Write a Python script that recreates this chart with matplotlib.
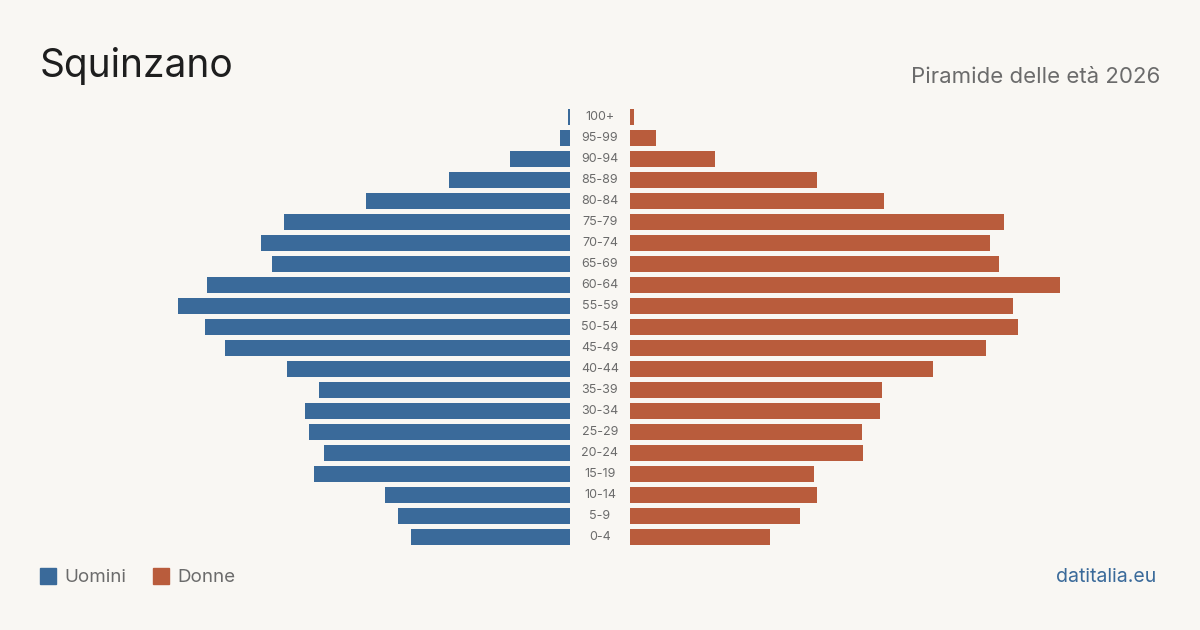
import matplotlib.pyplot as plt
import numpy as np

# Piramide delle eta - Squinzano 2026 (valori stimati dal grafico)
age_groups = ['0-4', '5-9', '10-14', '15-19', '20-24', '25-29', '30-34', '35-39',
              '40-44', '45-49', '50-54', '55-59', '60-64', '65-69', '70-74', '75-79',
              '80-84', '85-89', '90-94', '95-99', '100+']
uomini = [215, 232, 250, 346, 332, 352, 358, 339, 382, 466, 493, 529, 490, 402, 417,
          386, 275, 163, 81, 14, 3]
donne = [189, 230, 252, 248, 315, 313, 338, 340, 410, 481, 524, 518, 581, 498, 486,
         505, 343, 252, 115, 35, 5]

bg = '#f9f7f3'
blue = '#3a6a9a'
orange = '#b95c3c'
grey = '#6b6b6b'

plt.rcParams['font.family'] = ['Inter', 'DejaVu Sans']

fig = plt.figure(figsize=(12, 6.3), dpi=100, facecolor=bg)

# scala comune: 430 px per il valore massimo (60-64 donne)
xmax = max(donne) * 530 / 430
bottom = (630 - 547.5) / 630
height = 441 / 630
ax_l = fig.add_axes([40 / 1200, bottom, 530 / 1200, height])
ax_r = fig.add_axes([630 / 1200, bottom, 530 / 1200, height])

y = np.arange(len(age_groups))
ax_l.barh(y, uomini, height=0.8, color=blue)
ax_r.barh(y, donne, height=0.8, color=orange)
ax_l.set_xlim(xmax, 0)
ax_r.set_xlim(0, xmax)

for ax in (ax_l, ax_r):
    ax.set_ylim(-0.5, len(age_groups) - 0.5)
    ax.axis('off')
    ax.set_facecolor('none')

for i, lab in enumerate(age_groups):
    ax_r.text(-xmax * 30 / 530, i, lab, ha='center', va='center', fontsize=9,
              color=grey, clip_on=False)

fig.text(40 / 1200, 1 - 66 / 630, 'Squinzano', fontsize=28, color='#1e1e1e',
         ha='left', va='center')
fig.text(1160 / 1200, 1 - 77 / 630, 'Piramide delle età 2026', fontsize=16,
         color=grey, ha='right', va='center')

# legenda
fig.patches.append(plt.Rectangle((40 / 1200, 1 - 584 / 630), 16 / 1200, 16 / 630,
                                 transform=fig.transFigure, color=blue))
fig.text(64 / 1200, 1 - 577 / 630, 'Uomini', fontsize=13.5, color=grey,
         ha='left', va='center')
fig.patches.append(plt.Rectangle((153 / 1200, 1 - 584 / 630), 16 / 1200, 16 / 630,
                                 transform=fig.transFigure, color=orange))
fig.text(177 / 1200, 1 - 577 / 630, 'Donne', fontsize=13.5, color=grey,
         ha='left', va='center')

fig.text(1156 / 1200, 1 - 577 / 630, 'datitalia.eu', fontsize=14, color=blue,
         ha='right', va='center')

plt.savefig('out.png', dpi=100, facecolor=bg)
